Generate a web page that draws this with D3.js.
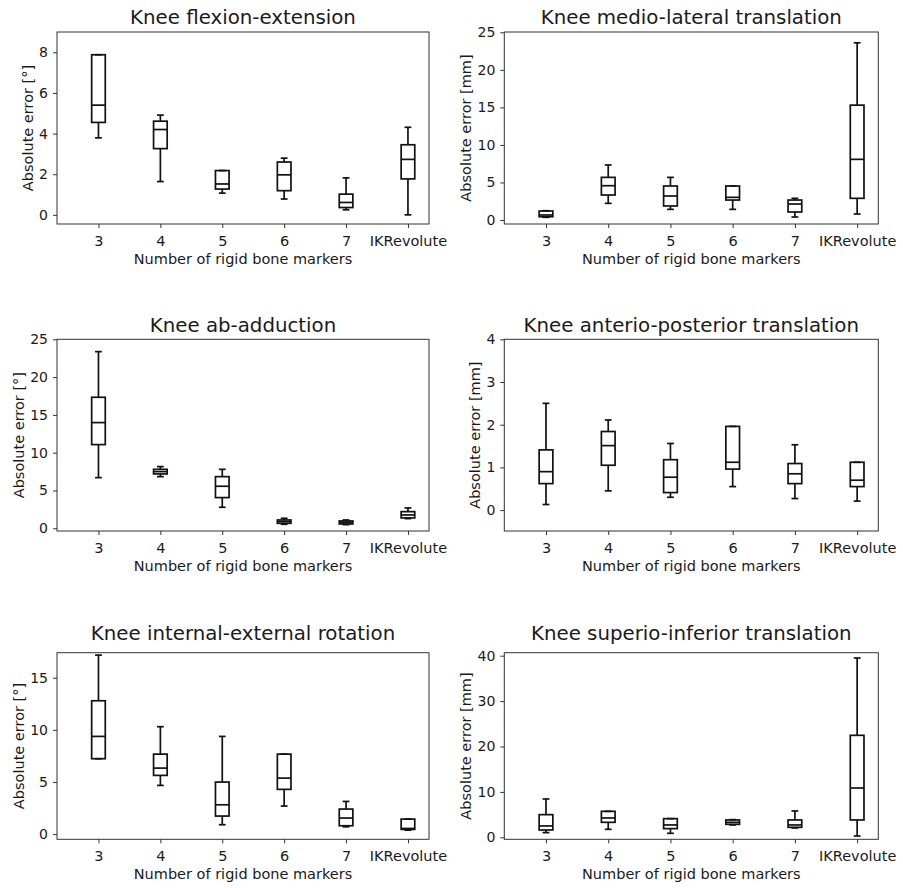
<!DOCTYPE html>
<html>
<head>
<meta charset="utf-8">
<script src="https://cdn.jsdelivr.net/npm/d3@7"></script>
<style>
  body { margin: 0; background: #fff; }
  text { font-family: "DejaVu Sans", sans-serif; fill: #1a1a1a; }
</style>
</head>
<body>
<div id="vis"></div>
<script>
const FRAME_WIDTH = 903;
const FRAME_HEIGHT = 888;

// categories on every x axis
const markerCounts = [1, 2, 3, 4, 5, 6];
const markerLabels = ["3", "4", "5", "6", "7", "IKRevolute"];

// box stats per category: [low whisker, q1, median, q3, high whisker]
const flexionExtension = [
  [3.79, 4.55, 5.40, 7.88, 7.88],
  [1.64, 3.26, 4.20, 4.61, 4.91],
  [1.07, 1.27, 1.52, 2.18, 2.18],
  [0.78, 1.19, 1.97, 2.60, 2.79],
  [0.25, 0.36, 0.61, 1.02, 1.82],
  [0.00, 1.77, 2.73, 3.45, 4.31]
];
const medioLateral = [
  [0.36, 0.44, 0.67, 1.20, 1.24],
  [2.22, 3.33, 4.57, 5.68, 7.33],
  [1.42, 1.87, 3.20, 4.53, 5.68],
  [1.42, 2.66, 3.02, 4.53, 4.53],
  [0.40, 1.07, 2.13, 2.66, 2.89],
  [0.80, 2.89, 8.08, 15.3, 23.6]
];
const abAdduction = [
  [6.70, 11.07, 13.98, 17.33, 23.37],
  [6.83, 7.19, 7.50, 7.80, 8.16],
  [2.78, 4.06, 5.56, 6.83, 7.80],
  [0.53, 0.66, 0.88, 1.10, 1.32],
  [0.48, 0.57, 0.79, 0.97, 1.10],
  [1.28, 1.37, 1.76, 2.20, 2.69]
];
const anterioPosterior = [
  [0.13, 0.62, 0.90, 1.41, 2.50],
  [0.45, 1.05, 1.51, 1.84, 2.11],
  [0.30, 0.41, 0.77, 1.18, 1.56],
  [0.55, 0.96, 1.12, 1.96, 1.96],
  [0.27, 0.62, 0.85, 1.09, 1.53],
  [0.21, 0.55, 0.70, 1.12, 1.12]
];
const internalExternal = [
  [7.23, 7.23, 9.37, 12.79, 17.17],
  [4.67, 5.63, 6.33, 7.67, 10.30],
  [0.90, 1.73, 2.81, 4.99, 9.37],
  [2.69, 4.29, 5.37, 7.67, 7.67],
  [0.70, 0.80, 1.54, 2.40, 3.13],
  [0.38, 0.45, 0.54, 1.44, 1.44]
];
const superioInferior = [
  [1.03, 1.61, 2.50, 4.99, 8.44],
  [1.76, 3.30, 4.26, 5.72, 5.72],
  [0.88, 1.91, 2.72, 4.11, 4.11],
  [2.72, 2.86, 3.30, 3.82, 3.89],
  [2.06, 2.20, 2.72, 3.82, 5.80],
  [0.29, 3.82, 10.86, 22.46, 39.49]
];

const titles = [
  "Knee flexion-extension", "Knee medio-lateral translation",
  "Knee ab-adduction", "Knee anterio-posterior translation",
  "Knee internal-external rotation", "Knee superio-inferior translation"
];
const yLabels = [
  "Absolute error [°]", "Absolute error [mm]",
  "Absolute error [°]", "Absolute error [mm]",
  "Absolute error [°]", "Absolute error [mm]"
];
const yTicks = [
  [0, 2, 4, 6, 8], [0, 5, 10, 15, 20, 25],
  [0, 5, 10, 15, 20, 25], [0, 1, 2, 3, 4],
  [0, 5, 10, 15], [0, 10, 20, 30, 40]
];
const yLimits = [
  [-0.45, 9.0], [-0.53, 25.04],
  [-0.36, 25.0], [-0.49, 4.0],
  [-0.5, 17.4], [-0.44, 40.66]
];
const seriesList = [flexionExtension, medioLateral, abAdduction,
                    anterioPosterior, internalExternal, superioInferior];

// layout of the 3x2 grid (pixels)
const COLS = [{x0: 57, x1: 429}, {x0: 504.3, x1: 878.3}];
const ROWS = [{y0: 32, y1: 224, title: 24}, {y0: 339.3, y1: 531, title: 332}, {y0: 652.7, y1: 839.3, title: 640}];
const BOX_W = 0.22;

const svg = d3.select("#vis")
  .append("svg")
  .attr("width", FRAME_WIDTH)
  .attr("height", FRAME_HEIGHT);

seriesList.forEach((series, i) => {
  const col = COLS[i % 2];
  const row = ROWS[Math.floor(i / 2)];

  const X_SCALE = d3.scaleLinear()
    .domain([0.33, 6.34])
    .range([col.x0, col.x1]);
  const Y_SCALE = d3.scaleLinear()
    .domain(yLimits[i])
    .range([row.y1, row.y0]);

  const g = svg.append("g");

  // title
  g.append("text")
    .attr("x", (col.x0 + col.x1) / 2)
    .attr("y", row.title)
    .attr("text-anchor", "middle")
    .attr("font-size", "19.8px")
    .text(titles[i]);

  // y axis
  const yAxis = g.append("g")
    .attr("transform", "translate(" + col.x0 + ",0)")
    .call(d3.axisLeft(Y_SCALE).tickValues(yTicks[i]).tickSize(4).tickPadding(5).tickFormat(d3.format("d")));
  yAxis.select(".domain").remove();
  yAxis.selectAll("text").attr("font-size", "14px").attr("fill", "#1a1a1a").attr("font-family", "DejaVu Sans");
  yAxis.selectAll("line").attr("stroke", "#333");

  // x axis
  const xAxis = g.append("g")
    .attr("transform", "translate(0," + row.y1 + ")")
    .call(d3.axisBottom(X_SCALE).tickValues(markerCounts).tickSize(4).tickPadding(7.8)
      .tickFormat((d, k) => markerLabels[k]));
  xAxis.select(".domain").remove();
  xAxis.selectAll("text").attr("font-size", "14.5px").attr("fill", "#1a1a1a").attr("font-family", "DejaVu Sans");
  xAxis.selectAll("line").attr("stroke", "#333");

  // axis labels
  const maxChars = d3.max(yTicks[i], (d) => String(d).length);
  const yLabelX = col.x0 - 21 - 8.5 * maxChars;
  g.append("text")
    .attr("transform", "translate(" + yLabelX + "," + ((row.y0 + row.y1) / 2) + ") rotate(-90)")
    .attr("text-anchor", "middle")
    .attr("dy", "0.35em")
    .attr("font-size", "14.5px")
    .text(yLabels[i]);
  g.append("text")
    .attr("x", (col.x0 + col.x1) / 2)
    .attr("y", row.y1 + 39.7)
    .attr("text-anchor", "middle")
    .attr("font-size", "14.5px")
    .text("Number of rigid bone markers");

  // boxes
  const boxes = g.selectAll(".box")
    .data(series)
    .enter()
    .append("g")
    .attr("class", "box")
    .attr("fill", "none")
    .attr("stroke", "#111")
    .attr("stroke-width", 1.7);

  const xc = (k) => X_SCALE(markerCounts[k]);
  const half = (X_SCALE(BOX_W) - X_SCALE(0)) / 2;

  boxes.append("line") // lower whisker
    .attr("x1", (d, k) => xc(k)).attr("x2", (d, k) => xc(k))
    .attr("y1", (d) => Y_SCALE(d[0])).attr("y2", (d) => Y_SCALE(d[1]));
  boxes.append("line") // upper whisker
    .attr("x1", (d, k) => xc(k)).attr("x2", (d, k) => xc(k))
    .attr("y1", (d) => Y_SCALE(d[3])).attr("y2", (d) => Y_SCALE(d[4]));
  boxes.append("line") // low cap
    .attr("x1", (d, k) => xc(k) - half / 2).attr("x2", (d, k) => xc(k) + half / 2)
    .attr("y1", (d) => Y_SCALE(d[0])).attr("y2", (d) => Y_SCALE(d[0]));
  boxes.append("line") // high cap
    .attr("x1", (d, k) => xc(k) - half / 2).attr("x2", (d, k) => xc(k) + half / 2)
    .attr("y1", (d) => Y_SCALE(d[4])).attr("y2", (d) => Y_SCALE(d[4]));
  boxes.append("rect")
    .attr("x", (d, k) => xc(k) - half)
    .attr("width", half * 2)
    .attr("y", (d) => Y_SCALE(d[3]))
    .attr("height", (d) => Math.max(0.5, Y_SCALE(d[1]) - Y_SCALE(d[3])));
  boxes.append("line") // median
    .attr("x1", (d, k) => xc(k) - half).attr("x2", (d, k) => xc(k) + half)
    .attr("y1", (d) => Y_SCALE(d[2])).attr("y2", (d) => Y_SCALE(d[2]));

  // frame
  g.append("rect")
    .attr("x", col.x0)
    .attr("y", row.y0)
    .attr("width", col.x1 - col.x0)
    .attr("height", row.y1 - row.y0)
    .attr("fill", "none")
    .attr("stroke", "#333")
    .attr("stroke-width", 1);
});
</script>
</body>
</html>
